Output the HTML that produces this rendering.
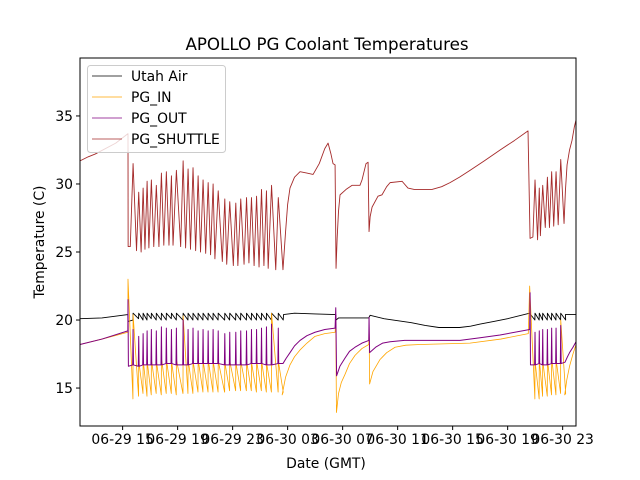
<!DOCTYPE html>
<html><head><meta charset="utf-8"><style>
body{margin:0;background:#fff;}
svg{display:block;font-family:"DejaVu Sans","Liberation Sans",sans-serif;}
</style></head><body>
<svg id="chart" width="640" height="480" viewBox="0 0 640 480">
<rect width="640" height="480" fill="#fff"/>
<text x="327" y="50" font-size="16.7" text-anchor="middle">APOLLO PG Coolant Temperatures</text>
<g id="plot"></g>
<g id="axes"></g>
<text x="326" y="468" font-size="13.9" text-anchor="middle">Date (GMT)</text>
<text transform="translate(44,242) rotate(-90)" font-size="13.9" text-anchor="middle">Temperature (C)</text>
<g>
<rect x="87.5" y="65.5" width="138" height="87" rx="3" fill="#fff" fill-opacity="0.8" stroke="#ccc"/>
<line x1="92" y1="76" x2="122" y2="76" stroke="#000" stroke-width="0.7"/>
<text x="131" y="81" font-size="13.9">Utah Air</text>
<line x1="92" y1="97" x2="122" y2="97" stroke="#ffa500" stroke-width="0.7"/>
<text x="131" y="102" font-size="13.9">PG_IN</text>
<line x1="92" y1="118" x2="122" y2="118" stroke="#800080" stroke-width="0.7"/>
<text x="131" y="123" font-size="13.9">PG_OUT</text>
<line x1="92" y1="139" x2="122" y2="139" stroke="#a52a2a" stroke-width="0.7"/>
<text x="131" y="144" font-size="13.9">PG_SHUTTLE</text>
</g>
</svg>
<script>
// time in hours since 06-29 00:00 GMT
const xTickHours=[15,19,23,27,31,35,39,43,47];
const xTickLabels=["06-29 15","06-29 19","06-29 23","06-30 03","06-30 07","06-30 11","06-30 15","06-30 19","06-30 23"];
const yTicks=[15,20,25,30,35];
// cycling blocks (peak times)
const cycles1=[15.76,16.17,16.49,16.78,17.09,17.45,17.82,18.18,18.55,18.91,19.40,19.76,20.12,20.49,20.85,21.22,21.58,21.95,22.43,22.79,23.23,23.59,24.01,24.37,24.74,25.10,25.46,25.83,26.32];
const cycles2=[44.99,45.30,45.55,45.89,46.20,46.52,46.86];
// PG_SHUTTLE
const shuttlePeaks1=[31.5,29.4,29.7,30.2,30.3,29.9,30.8,30.9,30.6,31.0,31.7,31.1,31.2,30.6,30.3,30.1,30.0,29.5,28.9,28.7,28.6,28.9,29.0,29.0,29.1,29.6,29.5,29.9,29.0];
const shuttleTroughs1=[25.4,25.1,25.0,25.2,25.3,25.4,25.4,25.5,25.5,25.5,25.4,25.3,25.2,25.1,25.0,24.9,24.8,24.5,24.3,24.1,24.0,24.0,24.1,24.2,24.0,23.9,24.0,23.8,23.7];
const shuttlePeaks2=[30.3,29.7,29.9,30.5,30.9,30.9,31.8];
const shuttleTroughs2=[26.1,25.9,26.2,26.8,26.8,26.9,27.0];
const shuttleBefore=[[11.9,31.7],[12.5,32.0],[13.0,32.2],[14.5,33.0],[15.39,33.7],[15.40,25.4]];
const shuttleMid=[[26.66,23.7],[26.85,26.5],[27.0,28.5],[27.17,29.7],[27.5,30.5],[27.9,30.9],[28.4,30.8],[28.85,30.7],[29.3,31.5],[29.7,32.6],[29.94,33.0],[30.15,32.2],[30.3,31.5],[30.45,31.4],[30.52,23.8],[30.6,26.0],[30.7,28.0],[30.81,29.2],[31.25,29.6],[31.68,29.9],[32.26,29.9],[32.41,30.3],[32.7,31.5],[32.85,31.6],[32.92,26.5],[33.0,27.6],[33.14,28.3],[33.57,29.1],[33.86,29.2],[34.2,29.8],[34.45,30.1],[35.32,30.2],[35.75,29.7],[36.2,29.6],[36.63,29.6],[37.5,29.6],[38.2,29.8],[38.81,30.1],[39.5,30.5],[40.26,31.0],[41.3,31.7],[42.45,32.5],[43.5,33.2],[44.48,33.9],[44.63,26.0]];
const shuttleAfter=[[47.1,27.1],[47.2,29.5],[47.32,31.4],[47.5,32.5],[47.68,33.2],[47.85,34.2],[47.97,34.7]];
// PG_IN
const inPeaks1=[20.4,17.0,17.1,17.0,17.1,17.0,17.2,17.1,17.0,17.1,20.3,17.1,17.0,17.1,17.0,17.1,17.0,17.0,16.9,17.0,16.9,17.0,17.0,16.9,17.0,17.0,16.9,20.5,17.0];
const inTroughs1=[14.2,14.4,14.6,14.4,14.5,14.6,14.5,14.6,14.6,14.5,14.6,14.6,14.6,14.7,14.7,14.7,14.7,14.7,14.7,14.8,14.8,14.8,14.8,14.8,14.7,14.8,14.7,14.7,14.7];
const inPeaks2=[17.0,17.1,17.0,17.1,17.2,17.1,20.0];
const inTroughs2=[14.2,14.2,14.4,14.4,14.5,14.5,14.6];
const inBefore=[[11.9,18.2],[13.5,18.6],[15.38,19.1],[15.39,23.0]];
const inMid=[[26.6,14.5],[26.85,15.8],[27.17,16.7],[27.5,17.3],[27.9,17.8],[28.4,18.3],[28.99,18.8],[29.7,19.0],[30.45,19.1],[30.5,19.8],[30.55,13.2],[30.7,14.6],[30.9,15.4],[31.17,16.0],[31.5,16.8],[31.9,17.4],[32.4,17.9],[32.9,18.2],[32.92,20.0],[32.96,15.3],[33.2,16.2],[33.72,17.1],[34.2,17.6],[34.81,18.0],[35.6,18.15],[36.63,18.2],[40.26,18.3],[42.5,18.6],[44.5,19.0],[44.6,22.5]];
const inAfter=[[47.15,14.5],[47.3,15.6],[47.5,16.6],[47.75,17.5],[47.97,18.2]];
// PG_OUT
const outPeaks1=[19.3,18.8,19.0,19.2,19.3,19.2,19.5,19.4,19.3,19.4,20.0,19.3,19.4,19.2,19.3,19.2,19.3,19.2,19.0,19.1,19.1,19.2,19.2,19.3,19.3,19.4,19.5,19.7,19.4];
const outBase1=[16.7,16.6,16.7,16.7,16.7,16.7,16.7,16.8,16.8,16.7,16.7,16.7,16.8,16.8,16.8,16.8,16.8,16.8,16.7,16.7,16.7,16.7,16.7,16.8,16.8,16.8,16.7,16.7,16.8];
const outPeaks2=[19.1,19.2,19.3,19.3,19.4,19.4,19.6];
const outBase2=[16.7,16.8,16.7,16.7,16.8,16.8,16.8];
const outBefore=[[11.9,18.2],[13.5,18.6],[15.38,19.2],[15.39,21.5],[15.42,16.6]];
const outMid=[[26.66,16.8],[26.9,17.2],[27.17,17.6],[27.5,18.1],[27.9,18.5],[28.4,18.85],[28.99,19.1],[29.7,19.3],[30.45,19.4],[30.5,20.9],[30.56,15.9],[30.8,16.6],[31.17,17.2],[31.5,17.7],[31.9,18.0],[32.4,18.3],[32.9,18.5],[32.92,20.2],[32.96,17.6],[33.4,18.0],[33.9,18.3],[34.45,18.4],[35.5,18.5],[36.63,18.5],[39.54,18.5],[41.0,18.7],[42.45,18.9],[44.6,19.3],[44.63,22.0],[44.66,16.7]];
const outAfter=[[47.17,16.9],[47.35,17.3],[47.5,17.6],[47.75,18.0],[47.97,18.4]];
// Utah Air
const airPeaks1=[20.5,20.5,20.5,20.5,20.5,20.5,20.5,20.5,20.5,20.5,20.5,20.5,20.5,20.5,20.5,20.5,20.5,20.5,20.5,20.5,20.5,20.5,20.5,20.5,20.5,20.5,20.5,20.5,20.5];
const airTroughs1=[20.0,20.1,20.0,20.0,20.1,20.0,20.0,20.0,20.1,20.0,20.0,20.0,20.0,20.0,20.0,20.0,20.0,20.0,20.0,20.0,20.0,20.0,20.0,20.0,20.0,20.0,20.0,20.0,20.0];
const airPeaks2=[20.5,20.5,20.5,20.5,20.5,20.5,20.5];
const airTroughs2=[20.0,20.0,20.0,20.0,20.0,20.0,20.0];
const airBefore=[[11.9,20.1],[13.5,20.15],[15.38,20.4],[15.39,19.9]];
const airMid=[[26.7,20.4],[27.5,20.5],[29.0,20.45],[30.5,20.4],[30.52,20.0],[30.7,20.15],[32.9,20.15],[33.0,20.35],[34.0,20.1],[35.0,19.95],[36.0,19.8],[37.0,19.6],[38.0,19.45],[39.5,19.45],[40.3,19.55],[41.0,19.7],[42.0,19.9],[43.0,20.1],[44.6,20.5]];
const airAfter=[[47.2,20.4],[47.97,20.4]];

const X0=80,X1=576,Y0=58,Y1=426;
const tMin=11.9,tMax=47.97,vMin=12.21,vMax=39.26;
const sx=t=>X0+(t-tMin)/(tMax-tMin)*(X1-X0);
const sy=v=>Y1-(v-vMin)/(vMax-vMin)*(Y1-Y0);

function osc(times,peaks,troughs,mode){
  const pts=[];
  for(let i=0;i<times.length;i++){
    const t=times[i];
    const step=(i+1<times.length?times[i+1]:t+0.37)-t;
    if(mode==='tri'){pts.push([t-step*0.5,troughs[i]]);pts.push([t,peaks[i]]);}
    else if(mode==='saw'){pts.push([t-0.01,troughs[i]]);pts.push([t,peaks[i]]);pts.push([t+step*0.97,troughs[i+1<times.length?i+1:i]]);}
    else if(mode==='spike'){pts.push([t-0.03,troughs[i]]);pts.push([t,peaks[i]]);pts.push([t+0.03,troughs[i]]);}
  }
  return pts;
}
const plot=document.getElementById('plot');
const NS='http://www.w3.org/2000/svg';
function draw(pts,color,name,w){
  const p=document.createElementNS(NS,'path');
  p.setAttribute('d',pts.map((q,i)=>(i?'L':'M')+sx(q[0]).toFixed(2)+' '+sy(q[1]).toFixed(2)).join(''));
  p.setAttribute('fill','none');p.setAttribute('stroke',color);p.setAttribute('stroke-width',w);
  p.setAttribute('stroke-linejoin','round');
  
  
  plot.appendChild(p);
}
draw([...airBefore,...osc(cycles1,airPeaks1,airTroughs1,'saw'),...airMid,...osc(cycles2,airPeaks2,airTroughs2,'saw'),...airAfter],'#000','utah-air-line',0.9);
draw([...inBefore,...osc(cycles1,inPeaks1,inTroughs1,'saw'),...inMid,...osc(cycles2,inPeaks2,inTroughs2,'saw'),...inAfter],'#ffa500','pg-in-line',0.8);
draw([...outBefore,...osc(cycles1,outPeaks1,outBase1,'spike'),...outMid,...osc(cycles2,outPeaks2,outBase2,'spike'),...outAfter],'#800080','pg-out-line',1);
draw([...shuttleBefore,...osc(cycles1,shuttlePeaks1,shuttleTroughs1,'tri'),...shuttleMid,...osc(cycles2,shuttlePeaks2,shuttleTroughs2,'tri'),...shuttleAfter],'#a52a2a','pg-shuttle-line',0.9);

const axes=document.getElementById('axes');
const fr=document.createElementNS(NS,'rect');
fr.setAttribute('x',X0);fr.setAttribute('y',Y0);fr.setAttribute('width',X1-X0);fr.setAttribute('height',Y1-Y0);
fr.setAttribute('fill','none');fr.setAttribute('stroke','#000');fr.setAttribute('stroke-width','1');


axes.appendChild(fr);
xTickHours.forEach((h,i)=>{
  const x=sx(h);
  const l=document.createElementNS(NS,'line');
  l.setAttribute('x1',x);l.setAttribute('x2',x);l.setAttribute('y1',Y1);l.setAttribute('y2',Y1+4);l.setAttribute('stroke','#000');
  
  
  axes.appendChild(l);
  const t=document.createElementNS(NS,'text');
  t.setAttribute('x',x);t.setAttribute('y',Y1+18);t.setAttribute('font-size','13.9');t.setAttribute('text-anchor','middle');
  t.textContent=xTickLabels[i];
  
  
  axes.appendChild(t);
});
yTicks.forEach(v=>{
  const y=sy(v);
  const l=document.createElementNS(NS,'line');
  l.setAttribute('x1',X0-4);l.setAttribute('x2',X0);l.setAttribute('y1',y);l.setAttribute('y2',y);l.setAttribute('stroke','#000');
  
  
  axes.appendChild(l);
  const t=document.createElementNS(NS,'text');
  t.setAttribute('x',X0-7);t.setAttribute('y',y+5);t.setAttribute('font-size','13.9');t.setAttribute('text-anchor','end');
  t.textContent=v;
  
  
  axes.appendChild(t);
});
</script>
</body></html>
